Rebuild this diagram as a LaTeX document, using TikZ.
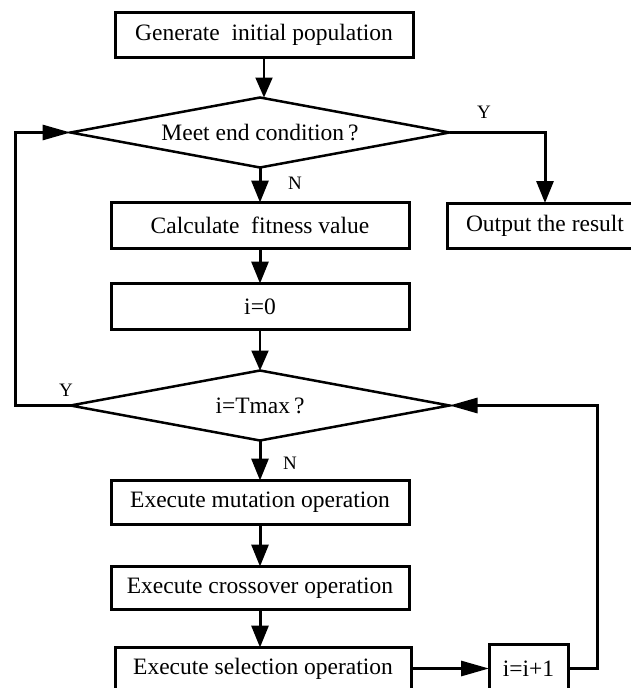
\documentclass[tikz,border=0pt]{standalone}
\usepackage{fontspec}
\setmainfont{Liberation Serif}
\usetikzlibrary{shapes.geometric, arrows.meta, positioning}

\tikzset{
  box/.style={draw, line width=3pt, minimum width=298pt, minimum height=45pt,
    inner sep=0pt, outer sep=0pt, font=\fontsize{23.5}{28}\selectfont},
  cond/.style={draw, diamond, line width=2.5pt, aspect=5.4, minimum width=379pt,
    minimum height=70pt, inner sep=0pt, outer sep=0pt, font=\fontsize{23.5}{28}\selectfont},
  flow/.style={line width=3pt, -{Triangle[length=22pt,width=17pt]}},
  flowthin/.style={line width=2pt, -{Triangle[length=20pt,width=17pt]}},
  back/.style={line width=3pt, -{Triangle[length=28pt,width=15pt]}},
  lbl/.style={font=\fontsize{19}{22}\selectfont, inner sep=0pt}
}

\begin{document}
\begin{tikzpicture}[x=1pt,y=-1pt]
\useasboundingbox (0,0) rectangle (630,688);

% main column
\node[box] (gen) at (264,35) {Generate\ \ initial population};

\node[cond, below=40pt of gen, xshift=-4pt] (meet) {Meet end condition\,?};

\node[box, below=35pt of meet, minimum height=46pt] (calc) {Calculate\ \ fitness value};

\node[box, right=38pt of calc, minimum width=196pt] (out) {Output the result};

\node[box, below=35pt of calc, minimum height=46pt] (init) {i=0};

\node[cond, below=41pt of init] (tmax) {i=Tmax\,?};

\node[box, below=40pt of tmax, minimum height=44pt] (mut) {Execute mutation operation};

\node[box, below=42pt of mut, minimum height=43pt] (cross) {Execute crossover operation};

\node[box, below=38pt of cross, xshift=3pt,
    minimum width=296pt, minimum height=42pt] (sel) {Execute selection operation};

\node[box, right=78pt of sel, minimum width=79pt, minimum height=48pt] (inc) {i=i+1};

% loop rails
\coordinate (lft) at (15,0);
\coordinate (rgt) at (597,0);

% labels
\node[lbl] (ymeet) at (484,112) {Y};
\node[lbl] (nmeet) at (295,183) {N};
\node[lbl] (ytmax) at (66,390) {Y};
\node[lbl] (ntmax) at (290,463) {N};

% Arrows
\draw[flowthin] (gen.south) -- (gen.south |- meet.north);
\draw[flow] (meet) -- (calc);
\draw[flow] (meet.east) -| (out.north);
\draw[flow] (calc) -- (init);
\draw[flowthin] (init) -- (tmax);
\draw[flow] (tmax) -- (mut);
\draw[flow] (mut) -- (cross);
\draw[flow] (cross.south) -- (cross.south |- sel.north);
\draw[back] (sel) -- (inc);
\draw[back] (inc.east) -- (inc.east -| rgt) |- (tmax.east);
\draw[back] (tmax.west) -- (tmax.west -| lft) |- (meet.west);
\end{tikzpicture}
\end{document}
